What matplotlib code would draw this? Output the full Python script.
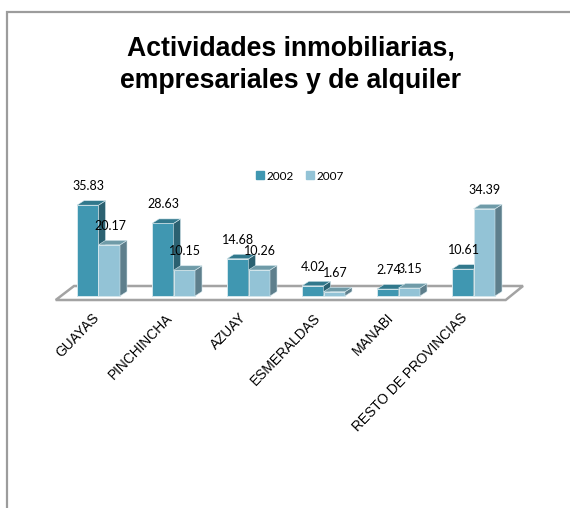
import matplotlib
matplotlib.use("Agg")
import matplotlib.pyplot as plt
from matplotlib.patches import Polygon

# data
provinces = ["GUAYAS", "PINCHINCHA", "AZUAY", "ESMERALDAS", "MANABI", "RESTO DE PROVINCIAS"]
values_2002 = [35.83, 28.63, 14.68, 4.02, 2.74, 10.61]
values_2007 = [20.17, 10.15, 10.26, 1.67, 3.15, 34.39]
years = ["2002", "2007"]
title = "Actividades inmobiliarias,\nempresariales y de alquiler"

W, H = 570, 508
PX_X = 75.0    # pixels per category
PX_Y = 2.535   # pixels per value unit
X0 = 98.5      # pixel of category 0 (border between its two bars)
Y0 = 296.0     # pixel of value 0

BAR_W = 21.5 / PX_X
DX = 7.0 / PX_X   # fake 3d depth
DY = 4.5 / PX_Y


def bar_3d(ax, x, value, front, side, top):
    ax.bar(x, value, BAR_W, align="edge", color=front, edgecolor="#d3e6ec", linewidth=0.7, zorder=3)
    ax.add_patch(Polygon([(x + BAR_W, 0), (x + BAR_W + DX, DY), (x + BAR_W + DX, value + DY), (x + BAR_W, value)],
                         facecolor=side, edgecolor="#d3e6ec", linewidth=0.4, zorder=3))
    ax.add_patch(Polygon([(x, value), (x + DX, value + DY), (x + BAR_W + DX, value + DY), (x + BAR_W, value)],
                         facecolor=top, edgecolor="#d3e6ec", linewidth=0.4, zorder=3))


def main():
    fig = plt.figure(figsize=(W / 100, H / 100), dpi=100)
    ax = fig.add_axes([0, 0, 1, 1])
    ax.set_xlim(-X0 / PX_X, (W - X0) / PX_X)
    ax.set_ylim(-(H - Y0) / PX_Y, Y0 / PX_Y)
    ax.axis("off")

    # outer frame, only left and top show
    ax.plot([6.5 / W, 6.5 / W, 1], [0, 1 - 12 / H, 1 - 12 / H], transform=ax.transAxes,
            color="#9c9c9c", lw=1.6, solid_joinstyle="miter", zorder=1)

    # floor
    floor_x = [(55.7 - X0) / PX_X, (74 - X0) / PX_X, (523 - X0) / PX_X, (505.7 - X0) / PX_X]
    floor_y = [-4 / PX_Y, 10 / PX_Y, 10 / PX_Y, -4 / PX_Y]
    ax.add_patch(Polygon(list(zip(floor_x, floor_y)), facecolor="white", edgecolor="#a3a3a3", linewidth=1.8, zorder=2))

    for i, (a, b) in enumerate(zip(values_2002, values_2007)):
        bar_3d(ax, i - BAR_W, a, "#4097b1", "#2b6171", "#31788c")
        bar_3d(ax, i, b, "#93c3d6", "#5e7f8c", "#6f9ba8")
        ax.text(i - BAR_W / 2 + 0.01, a + 7.5, "%.2f" % a, family="Lato", fontsize=9, ha="center", va="center", zorder=5)
        ax.text(i + BAR_W / 2 + 0.01, b + 7.5, "%.2f" % b, family="Lato", fontsize=9, ha="center", va="center", zorder=5)

        # rotated labels end just under the floor
        ax.text(i * 73.8 / PX_X - 2 / PX_X, -19.5 / PX_Y, provinces[i], family="Liberation Sans", fontsize=9.9,
                rotation=46, rotation_mode="anchor", ha="right", va="center", zorder=5)

    fig.text(291 / W, 1 - 64.5 / H, title, family="Liberation Sans", fontweight="bold", fontsize=19.2,
             ha="center", va="center", linespacing=1.32)

    # legend
    handles = [plt.Rectangle((0, 0), 1, 1, color="#4097b1"), plt.Rectangle((0, 0), 1, 1, color="#93c3d6")]
    ax.legend(handles, years, ncol=2, loc="center", bbox_to_anchor=(300 / W, 1 - 176 / H), frameon=False,
              prop={"family": "Lato", "size": 8.5}, handlelength=0.68, handleheight=0.68,
              handletextpad=0.25, columnspacing=1.0, borderpad=0)

    fig.savefig("out.png", dpi=100)


if __name__ == "__main__":
    main()
